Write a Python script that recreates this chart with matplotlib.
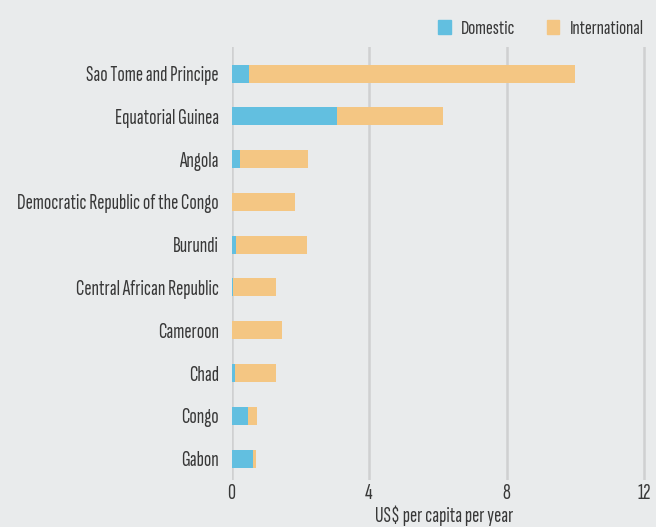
import matplotlib
matplotlib.use("Agg")
import matplotlib.pyplot as plt
from matplotlib.patches import Patch

plt.rcParams['font.family'] = ['Sofia Sans Extra Condensed', 'DejaVu Sans']

countries = ["Sao Tome and Principe", "Equatorial Guinea", "Angola",
             "Democratic Republic of the Congo", "Burundi",
             "Central African Republic", "Cameroon", "Chad", "Congo", "Gabon"]
domestic = [0.52, 3.07, 0.25, 0.0, 0.13, 0.04, 0.0, 0.10, 0.48, 0.63]
international = [9.47, 3.08, 1.97, 1.85, 2.07, 1.25, 1.47, 1.19, 0.26, 0.08]
xticks = [0, 4, 8, 12]

c_dom = "#62bfe0"
c_int = "#f4c683"
bg = "#e9ebec"
tc = "#383838"

fig = plt.figure(figsize=(6.56, 5.27), dpi=100, facecolor=bg)
ax = fig.add_axes([231.5/656, (527-480)/527, (656-231.5)/656, (480-47)/527])
ax.set_facecolor(bg)

y = list(range(len(countries)))
ax.barh(y, domestic, height=0.42, color=c_dom, zorder=3)
ax.barh(y, international, left=domestic, height=0.42, color=c_int, zorder=3)

ax.set_ylim(len(countries) - 0.5, -0.62)
ax.set_xlim(0, 12.34)
ax.set_yticks(y)
ax.set_yticklabels(countries, fontsize=15.5, color=tc)
ax.set_xticks(xticks)
ax.set_xticklabels([str(t) for t in xticks], fontsize=16, color=tc)
ax.tick_params(axis='both', length=0)
ax.tick_params(axis='y', pad=9)
ax.tick_params(axis='x', pad=3)
for s in ax.spines.values():
    s.set_visible(False)
ax.grid(axis='x', color="#cfd0d1", linewidth=1.8, zorder=0)
ax.set_xlabel("US$ per capita per year", fontsize=15.5, color=tc, labelpad=2)

handles = [Patch(color=c_dom, label="Domestic"), Patch(color=c_int, label="International")]
fig.legend(handles=handles, loc='upper right', bbox_to_anchor=(1.01, 0.997), ncol=2,
           frameon=False, fontsize=15, handlelength=0.6, handleheight=0.6,
           columnspacing=1.5, handletextpad=0.5, labelcolor=tc)

fig.savefig("out.png", dpi=100, facecolor=bg)
